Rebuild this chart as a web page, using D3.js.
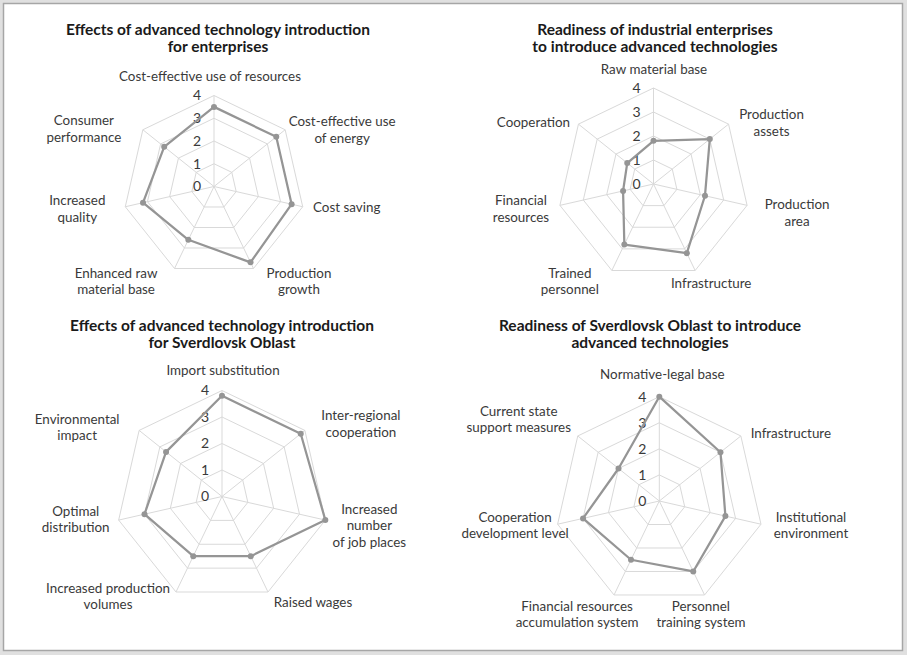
<!DOCTYPE html>
<html>
<head>
<meta charset="utf-8">
<script src="https://cdn.jsdelivr.net/npm/d3@7"></script>
<style>
  html, body { margin: 0; padding: 0; background: #e0e0e0; }
  svg { display: block; }
  text { font-family: Lato, "Open Sans", sans-serif; }
</style>
</head>
<body>
<svg id="chart" width="907" height="655"></svg>
<script>
// ---------- DATA ----------
const tickLabels = [0, 1, 2, 3, 4];

const enterpriseEffectsTitle = ["Effects of advanced technology introduction", "for enterprises"];
const enterpriseEffectsCategories = [
  "Cost-effective use of resources",
  "Cost-effective use\nof energy",
  "Cost saving",
  "Production\ngrowth",
  "Enhanced raw\nmaterial base",
  "Increased\nquality",
  "Consumer\nperformance"
];
const enterpriseEffectsValues = [3.5, 3.5, 3.5, 3.7, 2.6, 3.2, 2.8];

const enterpriseReadinessTitle = ["Readiness of industrial enterprises", "to introduce advanced technologies"];
const enterpriseReadinessCategories = [
  "Raw material base",
  "Production\nassets",
  "Production\narea",
  "Infrastructure",
  "Trained\npersonnel",
  "Financial\nresources",
  "Cooperation"
];
const enterpriseReadinessValues = [1.8, 3.0, 2.2, 3.2, 2.8, 1.3, 1.4];

const oblastEffectsTitle = ["Effects of advanced technology introduction", "for Sverdlovsk Oblast"];
const oblastEffectsCategories = [
  "Import substitution",
  "Inter-regional\ncooperation",
  "Increased\nnumber\nof job places",
  "Raised wages",
  "Increased production\nvolumes",
  "Optimal\ndistribution",
  "Environmental\nimpact"
];
const oblastEffectsValues = [3.8, 3.8, 4.0, 2.5, 2.5, 3.0, 2.7];

const oblastReadinessTitle = ["Readiness of Sverdlovsk Oblast to introduce", "advanced technologies"];
const oblastReadinessCategories = [
  "Normative-legal base",
  "Infrastructure",
  "Institutional\nenvironment",
  "Personnel\ntraining system",
  "Financial resources\naccumulation system",
  "Cooperation\ndevelopment level",
  "Current state\nsupport measures"
];
const oblastReadinessValues = [4.0, 3.0, 2.6, 3.0, 2.5, 3.0, 2.0];

// ---------- LAYOUT (positions / styles only) ----------
const panels = [
  { title: enterpriseEffectsTitle, cats: enterpriseEffectsCategories, vals: enterpriseEffectsValues,
    cx: 214, cy: 186.5, r: 91, titleX: 218, titleY: 30,
    labelOffsets: [[-4,-19.5],[57,0],[44,0.6],[45.5,12.8],[-58.5,13],[-48,2.3],[-59,-1]] },
  { title: enterpriseReadinessTitle, cats: enterpriseReadinessCategories, vals: enterpriseReadinessValues,
    cx: 653.5, cy: 184, r: 96, titleX: 655, titleY: 30,
    labelOffsets: [[0.5,-19],[43,-1.6],[50,7.6],[16,12.5],[-42,11],[-39,3.6],[-45,-1.4]] },
  { title: oblastEffectsTitle, cats: oblastEffectsCategories, vals: oblastEffectsValues,
    cx: 222, cy: 496.5, r: 106, titleX: 222, titleY: 326,
    labelOffsets: [[1,-20.5],[56,-6.4],[44,5.4],[45,10],[-68,4.5],[-43,-1],[-62,-3]] },
  { title: oblastReadinessTitle, cats: oblastReadinessCategories, vals: oblastReadinessValues,
    cx: 659.3, cy: 501, r: 104.3, titleX: 650, titleY: 326,
    labelOffsets: [[3,-22.4],[50,-3],[50,1.3],[-3.6,19.5],[-37,19.5],[-42.6,1.3],[-59,-16.5]] }
];

const svg = d3.select("#chart");
svg.append("rect").attr("x", 3.5).attr("y", 3.5).attr("width", 899).attr("height", 647)
  .attr("fill", "#ffffff").attr("stroke", "#a6a6a6").attr("stroke-width", 1.5);

const gridColor = "#d9d9d9";
const seriesColor = "#959595";
const textColor = "#3a3a3a";

panels.forEach(p => {
  const n = p.cats.length;
  const g = svg.append("g").attr("transform", `translate(${p.cx},${p.cy})`);
  const rScale = d3.scaleLinear().domain([0, 4]).range([0, p.r]);
  const aScale = d3.scaleLinear().domain([0, n]).range([0, 2 * Math.PI]);
  const pt = (i, v) => {
    const a = aScale(i) - Math.PI / 2;
    return [Math.cos(a) * rScale(v), Math.sin(a) * rScale(v)];
  };

  // grid rings
  tickLabels.slice(1).forEach(t => {
    const ring = d3.range(n).map(i => pt(i, t));
    g.append("polygon").attr("points", ring.map(d => d.join(",")).join(" "))
      .attr("fill", "none").attr("stroke", gridColor).attr("stroke-width", 1);
  });
  // spokes
  d3.range(n).forEach(i => {
    const [x, y] = pt(i, 4);
    g.append("line").attr("x1", 0).attr("y1", 0).attr("x2", x).attr("y2", y)
      .attr("stroke", gridColor).attr("stroke-width", 1);
  });

  // tick labels
  tickLabels.forEach(t => {
    g.append("text").attr("x", -13).attr("y", -rScale(t)).attr("dy", "0.35em")
      .attr("text-anchor", "end").attr("font-size", 14).attr("fill", textColor).text(t);
  });

  // series line
  const line = d3.lineRadial()
    .angle((d, i) => aScale(i))
    .radius(d => rScale(d))
    .curve(d3.curveLinearClosed);
  g.append("path").attr("d", line(p.vals)).attr("fill", "none")
    .attr("stroke", seriesColor).attr("stroke-width", 2.25).attr("stroke-linejoin", "round");
  g.selectAll("circle.m").data(p.vals).enter().append("circle")
    .attr("cx", (d, i) => pt(i, d)[0]).attr("cy", (d, i) => pt(i, d)[1])
    .attr("r", 3).attr("fill", seriesColor);

  // category labels
  const lineH = 16.5;
  p.cats.forEach((c, i) => {
    const [vx, vy] = pt(i, 4);
    const [ox, oy] = p.labelOffsets[i];
    const lines = c.split("\n");
    const t = g.append("text").attr("text-anchor", "middle").attr("font-size", 13.4).attr("fill", textColor);
    lines.forEach((ln, k) => {
      t.append("tspan").attr("x", vx + ox)
        .attr("y", vy + oy + (k - (lines.length - 1) / 2) * lineH)
        .attr("dy", "0.35em").text(ln);
    });
  });

  // title
  const tt = svg.append("text").attr("text-anchor", "middle").attr("font-size", 15.5)
    .attr("font-weight", "bold").attr("fill", "#1a1a1a");
  p.title.forEach((ln, k) => {
    tt.append("tspan").attr("x", p.titleX).attr("y", p.titleY + k * 17).attr("dy", "0.35em").text(ln);
  });
});
</script>
</body>
</html>
